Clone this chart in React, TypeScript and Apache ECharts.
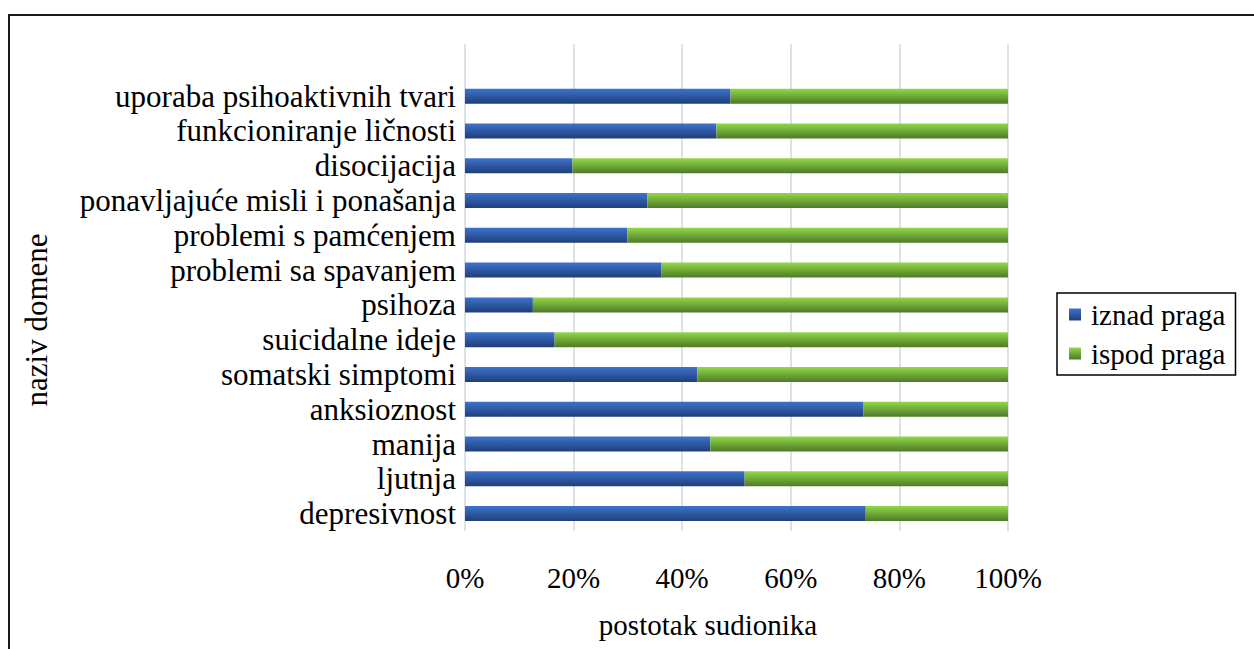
import React, { useEffect, useRef } from "react";
import * as echarts from "echarts";

const categories = [
  "depresivnost",
  "ljutnja",
  "manija",
  "anksioznost",
  "somatski simptomi",
  "suicidalne ideje",
  "psihoza",
  "problemi sa spavanjem",
  "problemi s pamćenjem",
  "ponavljajuće misli i ponašanja",
  "disocijacija",
  "funkcioniranje ličnosti",
  "uporaba psihoaktivnih tvari",
  "",
];

const iznadPraga = [73.8, 51.5, 45.2, 73.4, 42.8, 16.5, 12.5, 36.2, 29.9, 33.6, 19.8, 46.3, 48.9, null];
const ispodPraga = [26.2, 48.5, 54.8, 26.6, 57.2, 83.5, 87.5, 63.8, 70.1, 66.4, 80.2, 53.7, 51.1, null];

const xTicks = [0, 20, 40, 60, 80, 100];

const FONT = "Liberation Serif";

export default function App() {
  const ref = useRef<HTMLDivElement>(null);
  useEffect(() => {
    if (!ref.current) return;
    const chart = echarts.init(ref.current, null, { renderer: "svg" });
    const blue = new echarts.graphic.LinearGradient(0, 0, 0, 1, [
      { offset: 0, color: "#3d73cd" },
      { offset: 1, color: "#203e79" },
    ]);
    const green = new echarts.graphic.LinearGradient(0, 0, 0, 1, [
      { offset: 0, color: "#92d84a" },
      { offset: 1, color: "#4e7a26" },
    ]);
    chart.setOption({
      animation: false,
      backgroundColor: "#ffffff",
      textStyle: { fontFamily: FONT },
      grid: { left: 465, right: 246, top: 44, bottom: 118, containLabel: false },
      xAxis: {
        type: "value",
        min: xTicks[0],
        max: xTicks[xTicks.length - 1],
        interval: 20,
        axisLine: { show: false },
        axisTick: { show: false },
        splitLine: { show: true, lineStyle: { color: "#dde1e8", width: 2 } },
        axisLabel: {
          formatter: "{value}%",
          fontFamily: FONT,
          fontSize: 29,
          color: "#000",
          margin: 32,
        },
      },
      yAxis: {
        type: "category",
        data: categories,
        axisLine: { show: false },
        axisTick: { show: false },
        axisLabel: { fontFamily: FONT, fontSize: 31, color: "#000", margin: 9, interval: 0 },
      },
      legend: {
        orient: "vertical",
        left: 1057,
        top: 293,
        borderColor: "#000",
        borderWidth: 1.5,
        padding: [7, 10, 7, 12],
        itemWidth: 12,
        itemHeight: 12,
        itemGap: 10,
        icon: "rect",
        textStyle: { fontFamily: FONT, fontSize: 29, color: "#000", padding: [0, 0, 0, 5] },
        data: ["iznad praga", "ispod praga"],
      },
      graphic: [
        {
          type: "rect",
          shape: { x: 9, y: 15, width: 1400, height: 800 },
          style: { fill: "none", stroke: "#1a1a1a", lineWidth: 2 },
          silent: true,
        },
        {
          type: "text",
          x: 36,
          y: 320,
          rotation: Math.PI / 2,
          style: {
            text: "naziv domene",
            fontFamily: FONT,
            fontSize: 31,
            fill: "#000",
            align: "center",
            verticalAlign: "middle",
          },
        },
        {
          type: "text",
          x: 708,
          y: 625,
          style: {
            text: "postotak sudionika",
            fontFamily: FONT,
            fontSize: 29,
            fill: "#000",
            align: "center",
            verticalAlign: "middle",
          },
        },
      ],
      series: [
        {
          name: "iznad praga",
          type: "bar",
          stack: "total",
          barWidth: 15,
          data: iznadPraga,
          itemStyle: { color: blue },
        },
        {
          name: "ispod praga",
          type: "bar",
          stack: "total",
          barWidth: 15,
          data: ispodPraga,
          itemStyle: { color: green },
        },
      ],
    });
    return () => chart.dispose();
  }, []);
  return (
    <div
      ref={ref}
      style={{ position: "fixed", left: 0, top: 0, width: 1254, height: 649 }}
    />
  );
}
